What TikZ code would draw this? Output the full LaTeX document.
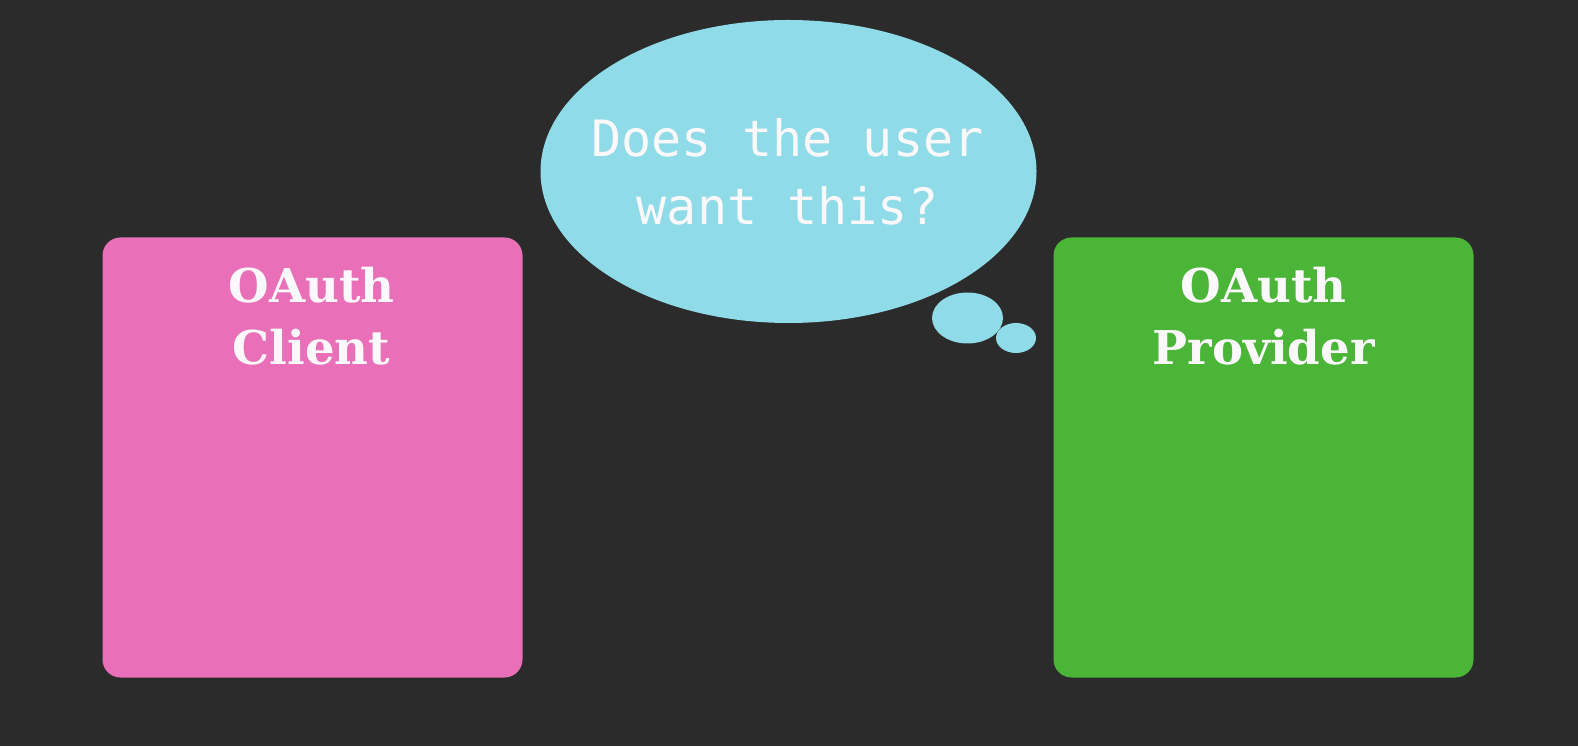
\documentclass[tikz,border=0pt]{standalone}
\usepackage{fontspec}
\usepackage{tikz}
\usetikzlibrary{positioning}
\newfontfamily\bubblefont{DejaVu Sans Mono}
\newfontfamily\slabfont{DejaVu Serif}
\definecolor{slidebg}{HTML}{2B2B2B}
\definecolor{clientpink}{HTML}{E96FB8}
\definecolor{providergreen}{HTML}{4BB538}
\definecolor{thoughtblue}{HTML}{8FDBE8}
\definecolor{offwhite}{HTML}{FBF8FB}
\tikzset{
  party/.style={rounded corners=0.36cm, minimum width=8.4cm, minimum height=8.8cm, inner sep=0pt},
  partytitle/.style={text=offwhite, align=center, anchor=base,
    font=\slabfont\bfseries\fontsize{26.5}{35.7}\selectfont},
}

\begin{document}
\begin{tikzpicture}
            \fill[slidebg] (0,0) rectangle (31.56,14.92);
            \useasboundingbox (0,0) rectangle (31.56,14.92);

            \node[party, fill=clientpink] (client) at (6.25,5.77) {};
            \node[party, fill=providergreen] (provider) at (25.27,5.77) {};

            % base anchor sits on the second line
            \node[partytitle] (clienttitle) at (6.23,7.62) {OAuth\\Client};
            \node[partytitle] (providertitle) at (25.27,7.62) {OAuth\\Provider};

            \fill[thoughtblue] (15.77,11.49) coordinate(bubble) ellipse (4.96 and 3.03);
            \fill[thoughtblue] (19.35,8.56) coordinate(puffa) ellipse (0.71 and 0.51);
            \fill[thoughtblue] (20.32,8.16) coordinate(puffb) ellipse (0.40 and 0.30);

            \node[text=offwhite, align=center, anchor=base,
              font=\bubblefont\fontsize{28.5}{38.7}\selectfont]
              (question) at (15.75,10.42) {Does the user\\want this?};
        \end{tikzpicture}
\end{document}
